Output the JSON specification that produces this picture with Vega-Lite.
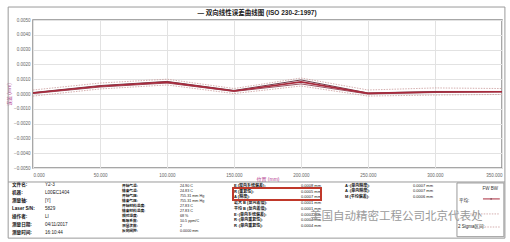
{
  "$schema": "https://vega.github.io/schema/vega-lite/v6.json",
  "width": 469,
  "height": 148,
  "autosize": "none",
  "padding": {"left": 33, "top": 20, "right": 8, "bottom": 74},
  "background": "white",
  "config": {
    "font": "Liberation Sans, Noto Sans CJK SC",
    "view": {"stroke": "#8a8a8a", "strokeWidth": 1.5},
    "axis": {"labelFontSize": 4.5, "labelColor": "#666", "ticks": false, "domain": false, "grid": true, "gridColor": "#e2e2e2", "gridWidth": 1, "titleFontSize": 5, "titleColor": "#b23a8e", "titleFontWeight": "normal"}
  },
  "datasets": {
    "curves": [
      {"pos": 0, "s": "FW", "err": 0.0001}, {"pos": 50, "s": "FW", "err": 0.00057}, {"pos": 100, "s": "FW", "err": 0.00085}, {"pos": 150, "s": "FW", "err": 0.00024}, {"pos": 200, "s": "FW", "err": 0.00095}, {"pos": 250, "s": "FW", "err": 0.00007}, {"pos": 300, "s": "FW", "err": 0.00017}, {"pos": 350, "s": "FW", "err": 0.00017},
      {"pos": 0, "s": "BW", "err": 0.00003}, {"pos": 50, "s": "BW", "err": 0.00047}, {"pos": 100, "s": "BW", "err": 0.00074}, {"pos": 150, "s": "BW", "err": 0.00017}, {"pos": 200, "s": "BW", "err": 0.00068}, {"pos": 250, "s": "BW", "err": 0.0}, {"pos": 300, "s": "BW", "err": 0.0001}, {"pos": 350, "s": "BW", "err": 0.00014},
      {"pos": 0, "s": "平均", "err": 0.00007}, {"pos": 50, "s": "平均", "err": 0.00052}, {"pos": 100, "s": "平均", "err": 0.0008}, {"pos": 150, "s": "平均", "err": 0.0002}, {"pos": 200, "s": "平均", "err": 0.00082}, {"pos": 250, "s": "平均", "err": 0.00004}, {"pos": 300, "s": "平均", "err": 0.00014}, {"pos": 350, "s": "平均", "err": 0.00015},
      {"pos": 0, "s": "上限", "err": 0.00027}, {"pos": 50, "s": "上限", "err": 0.00074}, {"pos": 100, "s": "上限", "err": 0.001}, {"pos": 150, "s": "上限", "err": 0.00037}, {"pos": 200, "s": "上限", "err": 0.00108}, {"pos": 250, "s": "上限", "err": 0.00027}, {"pos": 300, "s": "上限", "err": 0.00041}, {"pos": 350, "s": "上限", "err": 0.00037},
      {"pos": 0, "s": "下限", "err": -0.00014}, {"pos": 50, "s": "下限", "err": 0.00034}, {"pos": 100, "s": "下限", "err": 0.00061}, {"pos": 150, "s": "下限", "err": 0.00003}, {"pos": 200, "s": "下限", "err": 0.00054}, {"pos": 250, "s": "下限", "err": -0.00014}, {"pos": 300, "s": "下限", "err": -0.00007}, {"pos": 350, "s": "下限", "err": -0.00003}
    ],
    "tA": [
      {"r": 0, "k": "文件名:", "v": "Y2-3"},
      {"r": 1, "k": "机器:", "v": "L00EC1404"},
      {"r": 2, "k": "测量轴:", "v": "[Y]"},
      {"r": 3, "k": "Laser S/N:", "v": "5829"},
      {"r": 4, "k": "操作者:", "v": "LI"},
      {"r": 5, "k": "测量日期:", "v": "04/11/2017"},
      {"r": 6, "k": "测量时间:", "v": "16:10:44"}
    ],
    "tB": [
      {"r": 0, "k": "开始气温:", "v": "24.90 C"},
      {"r": 1, "k": "结束气温:", "v": "24.83 C"},
      {"r": 2, "k": "开始气压:", "v": "755.31 mm Hg"},
      {"r": 3, "k": "结束气压:", "v": "755.31 mm Hg"},
      {"r": 4, "k": "开始材料温度:", "v": "27.83 C"},
      {"r": 5, "k": "结束材料温度:", "v": "27.83 C"},
      {"r": 6, "k": "相对湿度:", "v": "68 %"},
      {"r": 7, "k": "膨胀系数:", "v": "10.5 ppm/C"},
      {"r": 8, "k": "测量次数:", "v": "2"},
      {"r": 9, "k": "反向间隙:", "v": "0.0000 mm"}
    ],
    "tC": [
      {"r": 0, "k": "E (双向系统偏差):", "v": "0.0008 mm"},
      {"r": 1, "k": "R (重复性):", "v": "0.0005 mm"},
      {"r": 2, "k": "A (精度):", "v": "0.0007 mm"},
      {"r": 3, "k": "最大 B (反向差值):", "v": "0.0001 mm"},
      {"r": 4, "k": "平均 B (反向差值):", "v": "0.0001 mm"},
      {"r": 5, "k": "E↑(单向系统偏差):", "v": "0.0007 mm"},
      {"r": 6, "k": "R↑(单向重复性):", "v": "0.0004 mm"},
      {"r": 7, "k": "R↓(单向重复性):", "v": "0.0004 mm"}
    ],
    "tD": [
      {"r": 0, "k": "A↑(单向精度):", "v": "0.0007 mm"},
      {"r": 1, "k": "A↓(单向精度):", "v": "0.0007 mm"},
      {"r": 2, "k": "M (平均偏差):", "v": "0.0006 mm"}
    ]
  },
  "layer": [
    {
      "data": {"name": "curves"},
      "encoding": {
        "x": {"field": "pos", "type": "quantitative", "scale": {"domain": [0, 350], "nice": false, "zero": false}, "axis": {"values": [0, 50, 100, 150, 200, 250, 300, 350], "format": ".3f", "title": "位置 (mm)", "labelPadding": 4, "labelDx": -8, "titlePadding": 0}},
        "y": {"field": "err", "type": "quantitative", "scale": {"domain": [-0.005, 0.005], "nice": false, "zero": false}, "axis": {"values": [-0.005, -0.004, -0.003, -0.002, -0.001, 0, 0.001, 0.002, 0.003, 0.004, 0.005], "format": ".4f", "title": "误差 (mm)", "labelPadding": 3, "titlePadding": 2}}
      },
      "layer": [
        {"transform": [{"filter": "datum.s == '上限' || datum.s == '下限'"}], "mark": {"type": "line", "strokeDash": [1.5, 1.2], "strokeWidth": 0.8, "color": "#c99a9a"}, "encoding": {"detail": {"field": "s"}}},
        {"transform": [{"filter": "datum.s == 'FW' || datum.s == 'BW'"}], "mark": {"type": "line", "strokeWidth": 1}, "encoding": {"color": {"field": "s", "type": "nominal", "scale": {"domain": ["FW", "BW"], "range": ["#6e3d4c", "#9a5363"]}, "legend": null}}},
        {"transform": [{"filter": "datum.s == '平均'"}], "mark": {"type": "line", "strokeWidth": 1.6, "color": "#a82a3c"}, "encoding": {}}
      ]
    },
    {
      "data": {"name": "tA"},
      "encoding": {"y": {"field": "r", "type": "quantitative", "scale": {"domain": [-20.625, -2.125], "reverse": true, "nice": false, "zero": false}, "axis": null}, "text": {"field": "k"}},
      "layer": [
        {"mark": {"type": "text", "align": "left", "baseline": "middle", "fontSize": 4.6, "fontWeight": "bold", "color": "#111"}, "encoding": {"x": {"datum": 0, "type": "quantitative", "scale": {"domain": [0.6364, 14.849], "nice": false, "zero": false}, "axis": null}}},
        {"mark": {"type": "text", "align": "left", "baseline": "middle", "fontSize": 4.6, "color": "#222"}, "encoding": {"x": {"datum": 1, "type": "quantitative", "scale": {"domain": [0.6364, 14.849], "nice": false, "zero": false}, "axis": null}, "text": {"field": "v"}}}
      ]
    },
    {
      "data": {"name": "tB"},
      "encoding": {"y": {"field": "r", "type": "quantitative", "scale": {"domain": [-33.2, -3.6], "reverse": true, "nice": false, "zero": false}, "axis": null}, "text": {"field": "k"}},
      "layer": [
        {"mark": {"type": "text", "align": "left", "baseline": "middle", "fontSize": 3.7, "fontWeight": "bold", "color": "#111"}, "encoding": {"x": {"datum": 0, "type": "quantitative", "scale": {"domain": [-1.5345, 6.552], "nice": false, "zero": false}, "axis": null}}},
        {"mark": {"type": "text", "align": "left", "baseline": "middle", "fontSize": 3.7, "color": "#222"}, "encoding": {"x": {"datum": 1, "type": "quantitative", "scale": {"domain": [-1.5345, 6.552], "nice": false, "zero": false}, "axis": null}, "text": {"field": "v"}}}
      ]
    },
    {
      "data": {"name": "tC"},
      "encoding": {"y": {"field": "r", "type": "quantitative", "scale": {"domain": [-28.87, -3.13], "reverse": true, "nice": false, "zero": false}, "axis": null}, "text": {"field": "k"}},
      "layer": [
        {"mark": {"type": "text", "align": "left", "baseline": "middle", "fontSize": 4, "fontWeight": "bold", "color": "#111"}, "encoding": {"x": {"datum": 0, "type": "quantitative", "scale": {"domain": [-3.0, 4.0], "nice": false, "zero": false}, "axis": null}}},
        {"mark": {"type": "text", "align": "left", "baseline": "middle", "fontSize": 4, "color": "#222"}, "encoding": {"x": {"datum": 1, "type": "quantitative", "scale": {"domain": [-3.0, 4.0], "nice": false, "zero": false}, "axis": null}, "text": {"field": "v"}}},
        {"mark": {"type": "rect", "fill": null, "fillOpacity": 0, "stroke": "#c0392b", "strokeWidth": 1.2}, "encoding": {"x": {"datum": -0.015, "type": "quantitative", "scale": {"domain": [-3.0, 4.0], "nice": false, "zero": false}, "axis": null}, "x2": {"datum": 1.3}, "y": {"datum": 0.35, "type": "quantitative"}, "y2": {"datum": 2.45}, "text": null}}
      ]
    },
    {
      "data": {"name": "tD"},
      "encoding": {"y": {"field": "r", "type": "quantitative", "scale": {"domain": [-30.18, -3.27], "reverse": true, "nice": false, "zero": false}, "axis": null}, "text": {"field": "k"}},
      "layer": [
        {"mark": {"type": "text", "align": "left", "baseline": "middle", "fontSize": 4, "fontWeight": "bold", "color": "#111"}, "encoding": {"x": {"datum": 0, "type": "quantitative", "scale": {"domain": [-4.588, 2.309], "nice": false, "zero": false}, "axis": null}}},
        {"mark": {"type": "text", "align": "left", "baseline": "middle", "fontSize": 4, "color": "#222"}, "encoding": {"x": {"datum": 1, "type": "quantitative", "scale": {"domain": [-4.588, 2.309], "nice": false, "zero": false}, "axis": null}, "text": {"field": "v"}}}
      ]
    },
    {
      "data": {"values": [{"text": "美国自动精密工程公司北京代表处", "title": "— 双向线性误差曲线图   (ISO 230-2:1997)"}]},
      "layer": [
        {"mark": {"type": "rect", "fill": null, "fillOpacity": 0, "stroke": "#9a9a9a", "strokeWidth": 1}, "encoding": {"x": {"datum": 1.6, "type": "quantitative", "scale": {"domain": [6.47, 98.43], "nice": false, "zero": false}, "axis": null}, "x2": {"datum": 99.0}, "y": {"datum": 2.9, "type": "quantitative", "scale": {"domain": [8.264, 69.42], "reverse": true, "nice": false, "zero": false}, "axis": null}, "y2": {"datum": 98.4}}},
        {"mark": {"type": "text", "align": "center", "baseline": "middle", "fontSize": 6.5, "fontWeight": "bold", "color": "#222"}, "encoding": {"x": {"datum": 50.4, "type": "quantitative", "scale": {"domain": [6.47, 98.43], "nice": false, "zero": false}, "axis": null}, "y": {"datum": 5.4, "type": "quantitative", "scale": {"domain": [8.264, 69.42], "reverse": true, "nice": false, "zero": false}, "axis": null}, "text": {"field": "title"}}},
        {"mark": {"type": "rule", "stroke": "#9a9a9a", "strokeWidth": 1}, "encoding": {"x": {"datum": 1.6, "type": "quantitative", "scale": {"domain": [6.47, 98.43], "nice": false, "zero": false}, "axis": null}, "x2": {"datum": 99.0}, "y": {"datum": 75.2, "type": "quantitative", "scale": {"domain": [8.264, 69.42], "reverse": true, "nice": false, "zero": false}, "axis": null}}},
        {"mark": {"type": "rect", "fill": null, "fillOpacity": 0, "stroke": "#9a9a9a", "strokeWidth": 1}, "encoding": {"x": {"datum": 89.6, "type": "quantitative", "scale": {"domain": [6.47, 98.43], "nice": false, "zero": false}, "axis": null}, "x2": {"datum": 98.8}, "y": {"datum": 75.6, "type": "quantitative", "scale": {"domain": [8.264, 69.42], "reverse": true, "nice": false, "zero": false}, "axis": null}, "y2": {"datum": 97.8}}},
        {"mark": {"type": "text", "align": "left", "baseline": "middle", "fontSize": 4.5, "color": "#333"}, "encoding": {"x": {"datum": 94.6, "type": "quantitative", "scale": {"domain": [6.47, 98.43], "nice": false, "zero": false}, "axis": null}, "y": {"datum": 78.1, "type": "quantitative", "scale": {"domain": [8.264, 69.42], "reverse": true, "nice": false, "zero": false}, "axis": null}, "text": {"value": "FW  BW"}}},
        {"mark": {"type": "text", "align": "left", "baseline": "middle", "fontSize": 4.5, "color": "#222"}, "encoding": {"x": {"datum": 90.0, "type": "quantitative", "scale": {"domain": [6.47, 98.43], "nice": false, "zero": false}, "axis": null}, "y": {"datum": 83.1, "type": "quantitative", "scale": {"domain": [8.264, 69.42], "reverse": true, "nice": false, "zero": false}, "axis": null}, "text": {"value": "平均:"}}},
        {"mark": {"type": "text", "align": "left", "baseline": "middle", "fontSize": 4.5, "color": "#222"}, "encoding": {"x": {"datum": 89.8, "type": "quantitative", "scale": {"domain": [6.47, 98.43], "nice": false, "zero": false}, "axis": null}, "y": {"datum": 93.8, "type": "quantitative", "scale": {"domain": [8.264, 69.42], "reverse": true, "nice": false, "zero": false}, "axis": null}, "text": {"value": "2 Sigma区间:"}}},
        {"mark": {"type": "rule", "stroke": "#a82a3c", "strokeWidth": 1}, "encoding": {"x": {"datum": 94.7, "type": "quantitative", "scale": {"domain": [6.47, 98.43], "nice": false, "zero": false}, "axis": null}, "x2": {"datum": 98.0}, "y": {"datum": 82.2, "type": "quantitative", "scale": {"domain": [8.264, 69.42], "reverse": true, "nice": false, "zero": false}, "axis": null}}},
        {"mark": {"type": "point", "shape": "circle", "size": 3, "filled": true, "color": "#6e3d4c"}, "encoding": {"x": {"datum": 96.3, "type": "quantitative", "scale": {"domain": [6.47, 98.43], "nice": false, "zero": false}, "axis": null}, "y": {"datum": 82.2, "type": "quantitative", "scale": {"domain": [8.264, 69.42], "reverse": true, "nice": false, "zero": false}, "axis": null}}},
        {"mark": {"type": "rule", "stroke": "#c99a9a", "strokeWidth": 0.8, "strokeDash": [1.5, 1.2]}, "encoding": {"x": {"datum": 92.2, "type": "quantitative", "scale": {"domain": [6.47, 98.43], "nice": false, "zero": false}, "axis": null}, "x2": {"datum": 98.0}, "y": {"datum": 88.4, "type": "quantitative", "scale": {"domain": [8.264, 69.42], "reverse": true, "nice": false, "zero": false}, "axis": null}}},
        {"mark": {"type": "rule", "stroke": "#c99a9a", "strokeWidth": 0.8, "strokeDash": [1.5, 1.2]}, "encoding": {"x": {"datum": 94.5, "type": "quantitative", "scale": {"domain": [6.47, 98.43], "nice": false, "zero": false}, "axis": null}, "x2": {"datum": 98.0}, "y": {"datum": 93.8, "type": "quantitative", "scale": {"domain": [8.264, 69.42], "reverse": true, "nice": false, "zero": false}, "axis": null}}},
        {"mark": {"type": "text", "align": "left", "baseline": "middle", "fontSize": 11.5, "color": "#9a9a9a", "font": "Noto Sans CJK SC"}, "encoding": {"x": {"datum": 60.8, "type": "quantitative", "scale": {"domain": [6.47, 98.43], "nice": false, "zero": false}, "axis": null}, "y": {"datum": 89.7, "type": "quantitative", "scale": {"domain": [8.264, 69.42], "reverse": true, "nice": false, "zero": false}, "axis": null}, "text": {"field": "text"}}}
      ]
    }
  ],
  "resolve": {"scale": {"x": "independent", "y": "independent"}}
}
